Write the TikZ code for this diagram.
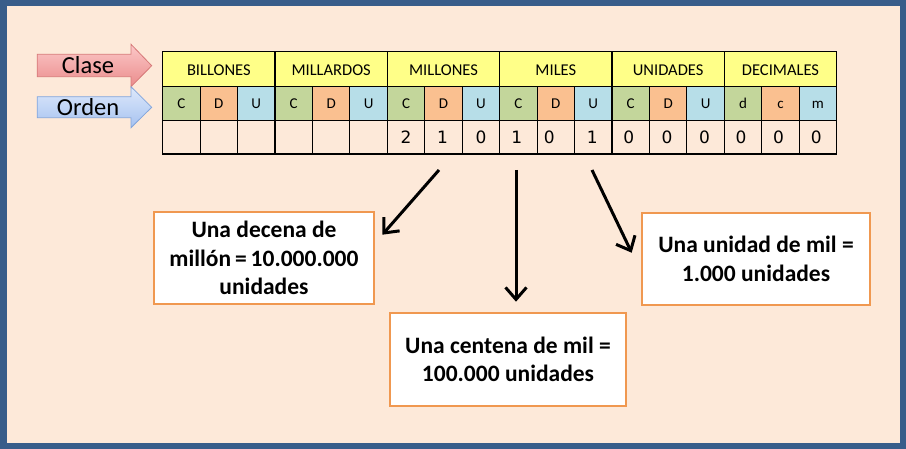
\documentclass[tikz,border=0pt]{standalone}
\usepackage{fontspec}
\setmainfont{Carlito}
\newfontfamily\digfont{DejaVu Sans}
\usetikzlibrary{arrows.meta}
\definecolor{frameblue}{RGB}{56,93,138}
\definecolor{bgbeige}{RGB}{253,233,217}
\definecolor{hdryellow}{RGB}{255,255,136}
\definecolor{cgreen}{RGB}{195,214,155}
\definecolor{dorange}{RGB}{250,192,144}
\definecolor{ublue}{RGB}{183,222,232}
\definecolor{boxorange}{RGB}{240,152,80}
\definecolor{pinktop}{RGB}{252,200,200}
\definecolor{pinkbot}{RGB}{234,140,140}
\definecolor{pinkline}{RGB}{214,120,120}
\definecolor{bluetop}{RGB}{222,233,251}
\definecolor{bluebot}{RGB}{166,194,240}
\definecolor{blueline}{RGB}{130,165,220}
\tikzset{
  hdrtext/.style={font=\fontsize{16.5}{19}\selectfont, inner sep=0pt},
  ordtext/.style={font=\fontsize{15}{18}\selectfont, inner sep=0pt, anchor=base},
  digtext/.style={font=\digfont\fontsize{17}{20}\selectfont, inner sep=0pt},
  lbltext/.style={font=\fontsize{24.5}{28}\selectfont, inner sep=0pt},
  infobox/.style={draw=boxorange, line width=2.6pt, fill=white, align=center,
    font=\bfseries\fontsize{23.5}{28.5}\selectfont, inner sep=0pt},
  gridline/.style={line width=1.1pt, black},
  bigarrow/.style={line width=3pt, black, -{Straight Barb[length=12pt,width=21pt,line width=3pt]}},
}
\begin{document}
\begin{tikzpicture}[x=1pt,y=-1pt]
\useasboundingbox (0,0) rectangle (906,449);
% frame and background
\fill[frameblue] (0,0) rectangle (906,449);
\fill[bgbeige] (7,6) rectangle (900,443);

% --- Clase / Orden arrows
\shade[top color=pinktop, bottom color=pinkbot, draw=pinkline, line width=0.8pt]
  (37.3,54.3) -- (131,54.3) -- (131,44.3) -- (151.7,65.7) -- (131,86.7) -- (131,76.7) -- (37.3,76.7) -- cycle;
\shade[top color=bluetop, bottom color=bluebot, draw=blueline, line width=0.8pt]
  (37.3,96.7) -- (131,96.7) -- (131,86.7) -- (151.7,107.3) -- (131,127.7) -- (131,117.7) -- (37.3,117.7) -- cycle;
\node[lbltext] (clase) at (88,65) {Clase};
\node[lbltext] (orden) at (88,107) {Orden};

% --- table
\def\xo{162.7}
\def\cw{37.44}
% header row fill
\fill[hdryellow] (\xo,51.7) rectangle ({\xo+18*\cw},86.7);
% order row fills
\foreach \i in {0,...,5}{
  \fill[cgreen]  ({\xo+(3*\i)*\cw},86.7) rectangle ({\xo+(3*\i+1)*\cw},120.7);
  \fill[dorange] ({\xo+(3*\i+1)*\cw},86.7) rectangle ({\xo+(3*\i+2)*\cw},120.7);
  \fill[ublue]   ({\xo+(3*\i+2)*\cw},86.7) rectangle ({\xo+(3*\i+3)*\cw},120.7);
}
% grid lines
\foreach \yy in {51.7,86.7,120.7,154}{
  \draw[gridline] (\xo-0.6,\yy) -- ({\xo+18*\cw+0.6},\yy);
}
\foreach \i in {0,...,18}{
  \draw[gridline] ({\xo+\i*\cw},86.7) -- ({\xo+\i*\cw},154);
}
\foreach \i in {0,3,...,18}{
  \draw[gridline] ({\xo+\i*\cw},51.7) -- ({\xo+\i*\cw},86.7);
}
% class headers
\foreach \lab [count=\k from 0] in {BILLONES,MILLARDOS,MILLONES,MILES,UNIDADES,DECIMALES}{
  \node[hdrtext] (h\k) at ({\xo+(3*\k+1.5)*\cw},70) {\lab};
}
% order letters
\foreach \lab [count=\k from 0] in {C,D,U,C,D,U,C,D,U,C,D,U,C,D,U,d,c,m}{
  \node[ordtext] (o\k) at ({\xo+(\k+0.5)*\cw},108.8) {\lab};
}
% digits
\foreach \lab/\k/\dx in {2/6/0,1/7/-1,0/8/0,1/9/-1.5,0/10/-6.5,1/11/-1,0/12/-2,0/13/-1,0/14/-1,0/15/-2,0/16/-2,0/17/-1.5}{
  \node[digtext] (d\k) at ({\xo+(\k+0.5)*\cw+\dx},137) {\lab};
}

% --- info boxes
\node[infobox, minimum width=220pt, minimum height=92pt] (b1) at (264,258)
  {Una decena de\\millón\,=\,10.000.000\\unidades};
\node[infobox, minimum width=236pt, minimum height=93pt] (b2) at (508,359.5)
  {Una centena de mil =\\100.000 unidades};
\node[infobox, minimum width=228pt, minimum height=92pt] (b3) at (756,259)
  {Una unidad de mil =\\1.000 unidades};

% --- connectors
\coordinate (s1) at (439,170);
\coordinate (s2) at (516,170);
\coordinate (s3) at (592,170);
\coordinate (e1) at ([shift={(7pt,-24pt)}]b1.north east);
\coordinate (e2) at ([shift={(8pt,10pt)}]b2.north);
\coordinate (e3) at ([shift={(-9pt,-41pt)}]b3.north west);
\draw[bigarrow] (s1) -- (e1);
\draw[bigarrow] (s2) -- (e2);
\draw[bigarrow] (s3) -- (e3);
\end{tikzpicture}
\end{document}
